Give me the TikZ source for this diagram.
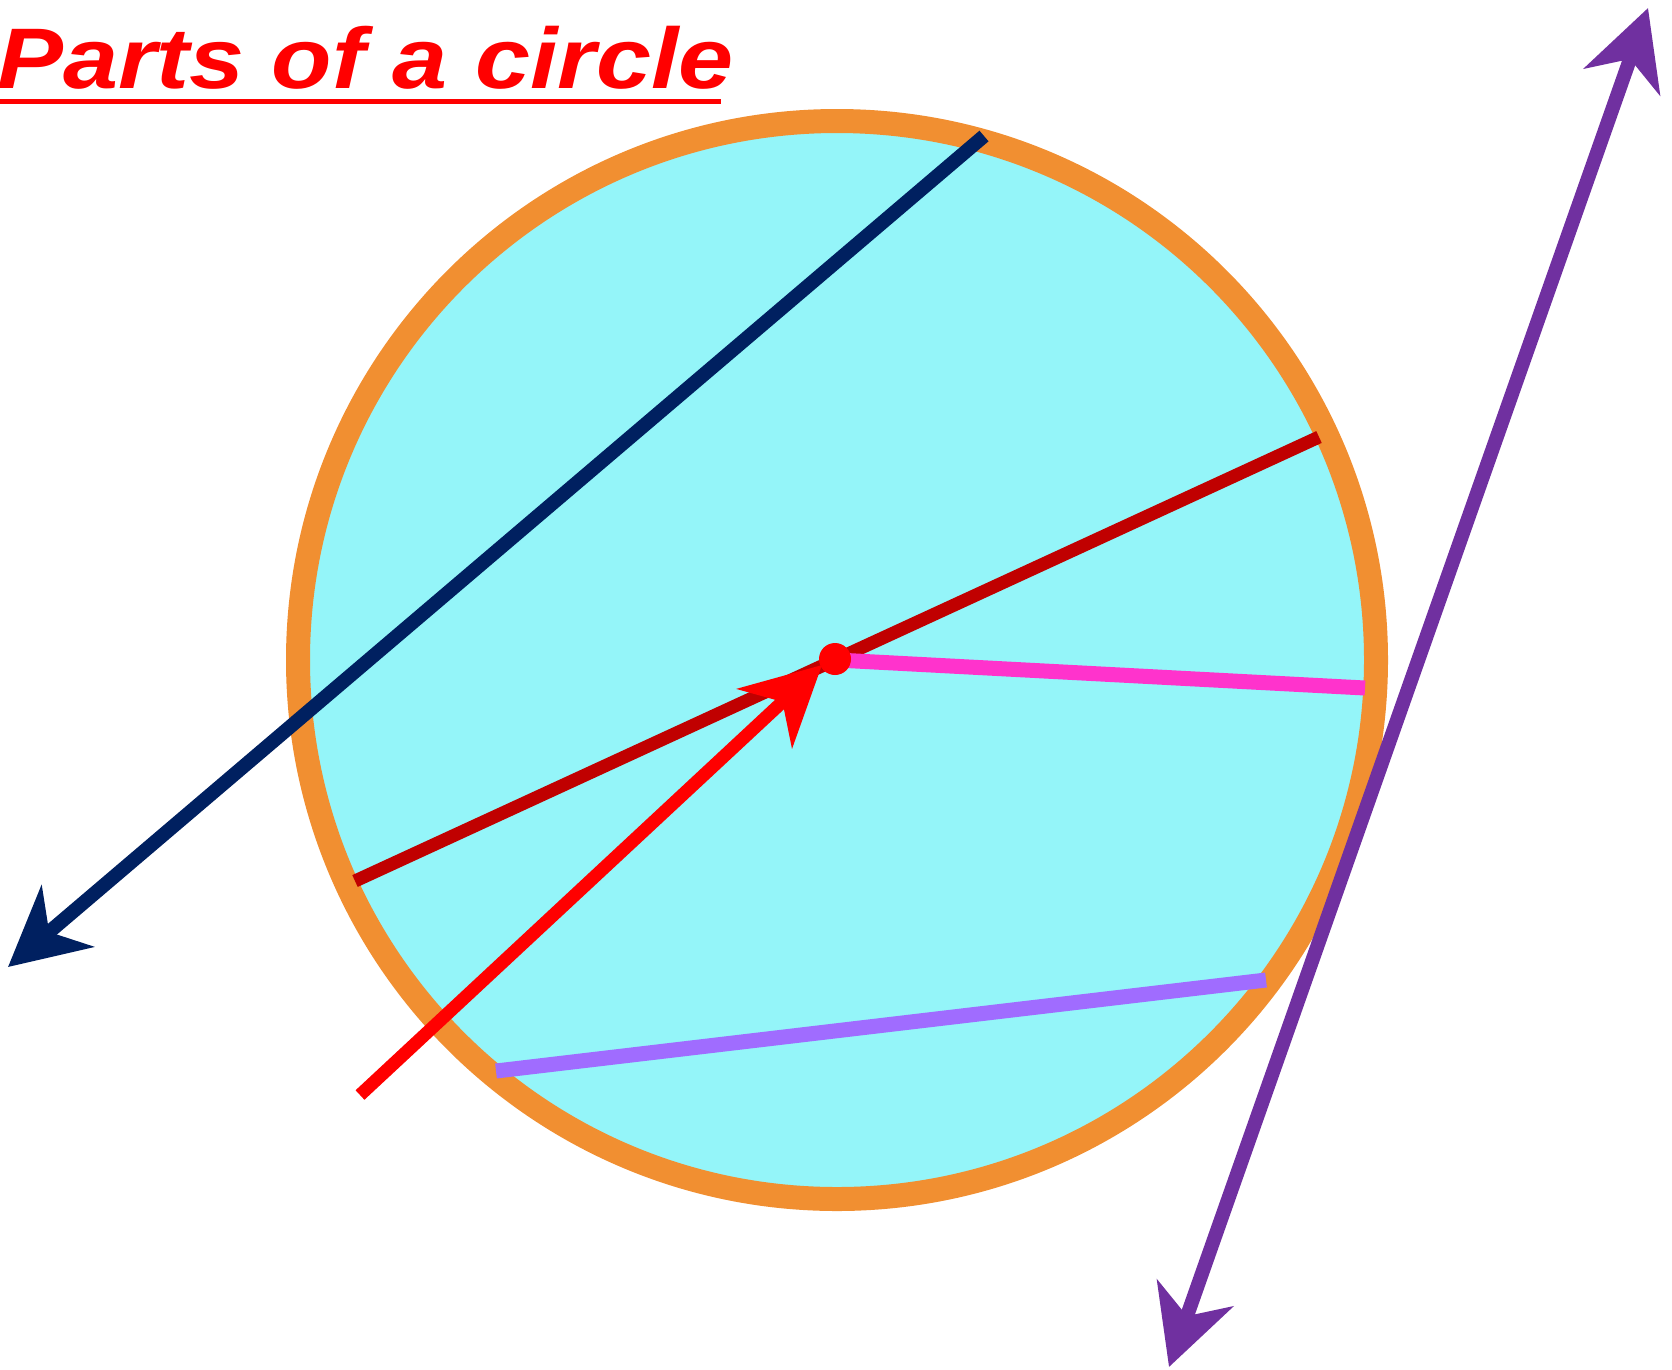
\documentclass[tikz,border=0pt]{standalone}
\usepackage{fontspec}
\usepackage{tikz}
\usetikzlibrary{arrows.meta}
\newfontfamily\titlefont{Liberation Sans}
\definecolor{skyfill}{HTML}{94F5F9}
\definecolor{rim}{HTML}{F18F31}
\definecolor{navy}{HTML}{002060}
\definecolor{darkred}{HTML}{C00000}
\definecolor{pinkish}{HTML}{FF33CC}
\definecolor{lavender}{HTML}{A06CFF}
\definecolor{purple}{HTML}{7030A0}
\tikzset{
  bigtip/.style={-{Stealth[length=78pt,width=80pt,inset=24pt]}},
  bothtips/.style={{Stealth[length=78pt,width=80pt,inset=24pt]}-{Stealth[length=78pt,width=80pt,inset=24pt]}},
  titletext/.style={anchor=base west, inner sep=0pt, text=red,
    font=\titlefont\bfseries\itshape\fontsize{86}{100}\selectfont}
}
\begin{document}
\begin{tikzpicture}[x=1pt,y=-1pt]
  \useasboundingbox (0,0) rectangle (1672,1369);
  \node[titletext] (title) at (-3,88) {\scalebox{1.15}[1]{Parts of a circle}};
  \coordinate (lineL) at (0,101);
  \coordinate (lineR) at (721,101);
  \draw[red, line width=5pt] (lineL) -- (lineR);
  \coordinate (ctr) at (837,660);
  \draw[rim, line width=24pt, fill=skyfill] (ctr) circle[radius=539];
  \coordinate (secA) at (984,136);
  \coordinate (secB) at (8,967);
  \draw[navy, line width=14pt, bigtip] (secA) -- (secB);
  \coordinate (diaA) at (355,881);
  \coordinate (diaB) at (1319,437);
  \draw[darkred, line width=13pt] (diaA) -- (diaB);
  \coordinate (radB) at (1365,688);
  \draw[pinkish, line width=15pt] (ctr) -- (radB);
  \coordinate (ptrA) at (360,1095);
  \coordinate (ptrB) at (822,665);
  \draw[red, line width=13pt, bigtip] (ptrA) -- (ptrB);
  \node[circle, fill=red, minimum size=32pt, inner sep=0pt] (dot) at (835,659) {};
  \coordinate (chdA) at (496,1071);
  \coordinate (chdB) at (1266,980);
  \draw[lavender, line width=15pt] (chdA) -- (chdB);
  \coordinate (tanA) at (1169,1367);
  \coordinate (tanB) at (1648,8);
  \draw[purple, line width=14pt, bothtips] (tanA) -- (tanB);
\end{tikzpicture}
\end{document}
